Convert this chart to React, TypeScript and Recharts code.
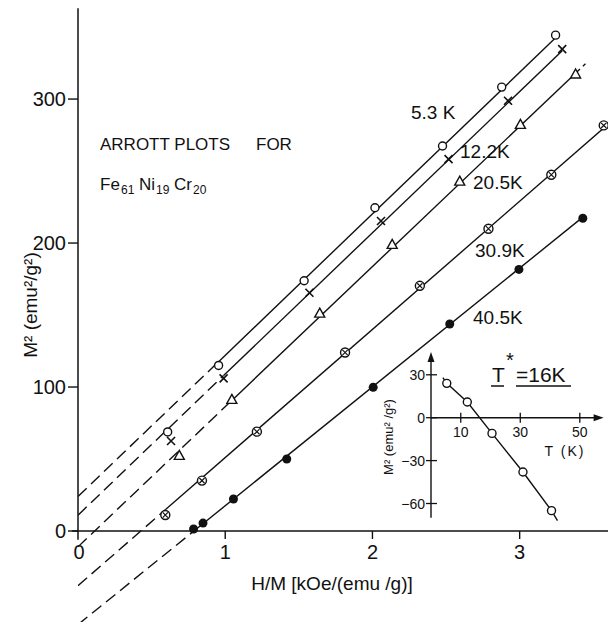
import React from 'react';
import { ComposedChart, Line, Scatter, XAxis, YAxis, ReferenceLine, ReferenceDot, Customized } from 'recharts';

const FONT = '"Liberation Sans", Arial, sans-serif';
const INK = '#111';

// Arrott isotherms, H/M in kOe/(emu/g) and M^2 in emu^2/g^2
const hm53 = [0.609, 0.955, 1.536, 2.017, 2.476, 2.878, 3.244];
const m53 = [68.8, 115, 173.8, 224.5, 267.4, 308.3, 344.4];

const hm122 = [0.632, 0.989, 1.572, 2.058, 2.517, 2.921, 3.289];
const m122 = [62.5, 106, 165.5, 215.3, 258.3, 298.8, 334.7];

const hm205 = [0.688, 1.045, 1.642, 2.134, 2.593, 3.005, 3.38];
const m205 = [52.5, 91.4, 151.3, 199.1, 243, 282.4, 317.4];

const hm309 = [0.593, 0.842, 1.215, 1.814, 2.322, 2.788, 3.215, 3.571];
const m309 = [11.1, 35, 69, 124, 170.3, 209.9, 247.4, 281.7];

const hm405 = [0.785, 0.849, 1.056, 1.418, 2.005, 2.525, 2.995, 3.429];
const m405 = [1.4, 5.5, 22.2, 50, 99.8, 143.75, 181.7, 217.2];

// extrapolated M^2 at H/M = 0 for each temperature (same values as the inset)
const temps = [5.3, 12.2, 20.5, 30.9, 40.5];
const intercepts = [24, 11, -11, -38, -65];
const tempLabels = ['5.3 K', '12.2K', '20.5K', '30.9K', '40.5K'];

// straight drawn lines: dashed from the intercept to (solidX0, solidY0), solid up to (solidX1, solidY1)
const solidX0 = [0.955, 0.989, 1.045, 0.593, 0.785];
const solidY0 = [117.6, 108, 90.7, 14.8, -0.2];
const solidX1 = [3.244, 3.289, 3.38, 3.6, 3.429];
const solidY1 = [342.5, 333.5, 318, 282.4, 218];
// short dashed continuation above the last 20.5 K triangle
const ext205X = [3.38, 3.447];
const ext205Y = [318, 324.5];

// inset line runs a little past the first and last point
const insetLineT = [4.0, 42.5];
const insetLineM = [28, -72];

const yTicks = [0, 100, 200, 300];
const xTicks = [0, 1, 2, 3];
const insetXTicks = [10, 30, 50];
const insetYTicks = [30, 0, -30, -60];

const pts = (xs: number[], ys: number[]) => xs.map((x, i) => ({ x, y: ys[i] }));

const series = [
  { xs: hm53, ys: m53, kind: 'circle' },
  { xs: hm122, ys: m122, kind: 'cross' },
  { xs: hm205, ys: m205, kind: 'triangle' },
  { xs: hm309, ys: m309, kind: 'otimes' },
  { xs: hm405, ys: m405, kind: 'filled' },
];

const Marker = (props: any) => {
  const { cx, cy, kind } = props;
  if (cx == null || cy == null) return null;
  switch (kind) {
    case 'circle':
      return <circle cx={cx} cy={cy} r={4} fill="#fff" stroke={INK} strokeWidth={1.4} />;
    case 'cross':
      return (
        <path
          d={`M${cx - 4},${cy - 4}L${cx + 4},${cy + 4}M${cx + 4},${cy - 4}L${cx - 4},${cy + 4}`}
          stroke={INK}
          strokeWidth={1.6}
        />
      );
    case 'triangle':
      return (
        <path d={`M${cx},${cy - 5}L${cx + 5},${cy + 4}L${cx - 5},${cy + 4}Z`} fill="#fff" stroke={INK} strokeWidth={1.4} />
      );
    case 'otimes':
      return (
        <g>
          <circle cx={cx} cy={cy} r={4.5} fill="#fff" stroke={INK} strokeWidth={1.4} />
          <path d={`M${cx - 2.6},${cy - 2.6}L${cx + 2.6},${cy + 2.6}M${cx + 2.6},${cy - 2.6}L${cx - 2.6},${cy + 2.6}`} stroke={INK} strokeWidth={1.2} />
        </g>
      );
    default:
      return <circle cx={cx} cy={cy} r={4.5} fill={INK} />;
  }
};

// all free text is placed in page pixels on the main (full size) chart
const MainText = () => (
  <g fontFamily={FONT} fill={INK}>
    <text x={100} y={150} fontSize={17}>ARROTT PLOTS</text>
    <text x={256} y={150} fontSize={17}>FOR</text>
    <text x={100} y={190} fontSize={17}>Fe</text>
    <text x={121} y={194} fontSize={12}>61</text>
    <text x={139} y={190} fontSize={17}>Ni</text>
    <text x={156} y={194} fontSize={12}>19</text>
    <text x={174} y={190} fontSize={17}>Cr</text>
    <text x={193} y={194} fontSize={12}>20</text>
    <text x={411} y={119} fontSize={19}>{tempLabels[0]}</text>
    <text x={460} y={158} fontSize={19}>{tempLabels[1]}</text>
    <text x={473} y={189} fontSize={19}>{tempLabels[2]}</text>
    <text x={475} y={257} fontSize={19}>{tempLabels[3]}</text>
    <text x={473} y={324} fontSize={19}>{tempLabels[4]}</text>
    <text x={332} y={590} fontSize={19} textAnchor="middle">H/M [kOe/(emu /g)]</text>
    <text x={0} y={0} fontSize={19} textAnchor="middle" transform="translate(37,305) rotate(-90)">
      M² (emu²/g²)
    </text>
    {/* inset annotations */}
    <text x={565} y={456} fontSize={14} textAnchor="middle" letterSpacing={2}>T (K)</text>
    <text x={0} y={0} fontSize={13} textAnchor="middle" transform="translate(393,437) rotate(-90)">
      M² (emu² /g²)
    </text>
    <text x={492} y={382} fontSize={21}>T</text>
    <text x={506} y={367} fontSize={20}>*</text>
    <text x={516} y={382} fontSize={21}>=16K</text>
    <line x1={491} y1={386} x2={504} y2={386} stroke={INK} strokeWidth={1.5} />
    <line x1={516} y1={386} x2={571} y2={386} stroke={INK} strokeWidth={1.5} />
  </g>
);

export default function App() {
  return (
    <div style={{ position: 'absolute', left: 0, top: 0, width: 608, height: 622, background: '#fff' }}>
      <ComposedChart width={608} height={622} margin={{ top: 0, right: 0, bottom: 0, left: 0 }}>
        <XAxis type="number" dataKey="x" domain={[0, 3.6]} hide allowDataOverflow />
        <YAxis
          type="number"
          dataKey="y"
          domain={[-63.2, 368.8]}
          ticks={yTicks}
          interval={0}
          width={78}
          axisLine={false}
          tickSize={10}
          tickLine={{ stroke: INK, strokeWidth: 1.4 }}
          tick={{ fill: INK, fontSize: 20, fontFamily: FONT }}
          allowDataOverflow
        />
        <ReferenceLine segment={[{ x: -0.04, y: 0 }, { x: 3.6, y: 0 }]} stroke={INK} strokeWidth={1.5} ifOverflow="visible" />
        <ReferenceLine segment={[{ x: 0, y: -6 }, { x: 0, y: 363 }]} stroke={INK} strokeWidth={1.5} ifOverflow="visible" />
        {xTicks.map((t) => (
          <ReferenceDot
            key={'xt' + t}
            x={t}
            y={0}
            r={0}
            ifOverflow="visible"
            shape={(p: any) => (
              <g>
                {t !== 0 && <line x1={p.cx} y1={p.cy} x2={p.cx} y2={p.cy + 8} stroke={INK} strokeWidth={1.4} />}
                <text x={p.cx + (t === 0 ? 1 : 0)} y={p.cy + 28} textAnchor="middle" fontSize={20} fontFamily={FONT} fill={INK}>
                  {t}
                </text>
              </g>
            )}
          />
        ))}
        {intercepts.map((b, i) => (
          <Line
            key={'d' + i}
            data={[{ x: 0, y: b }, { x: solidX0[i], y: solidY0[i] }]}
            dataKey="y"
            stroke={INK}
            strokeWidth={1.4}
            strokeDasharray="12 6"
            dot={false}
            isAnimationActive={false}
          />
        ))}
        {intercepts.map((_, i) => (
          <Line
            key={'s' + i}
            data={[{ x: solidX0[i], y: solidY0[i] }, { x: solidX1[i], y: solidY1[i] }]}
            dataKey="y"
            stroke={INK}
            strokeWidth={1.4}
            dot={false}
            isAnimationActive={false}
          />
        ))}
        <Line
          data={pts(ext205X, ext205Y)}
          dataKey="y"
          stroke={INK}
          strokeWidth={1.4}
          strokeDasharray="6 4"
          dot={false}
          isAnimationActive={false}
        />
        {series.map((s, i) => (
          <Scatter
            key={'p' + i}
            data={pts(s.xs, s.ys)}
            isAnimationActive={false}
            shape={(p: any) => <Marker cx={p.cx} cy={p.cy} kind={s.kind} />}
          />
        ))}
        <Customized component={MainText} />
      </ComposedChart>

      <div style={{ position: 'absolute', left: 372, top: 336 }}>
        <ComposedChart width={236} height={200} margin={{ top: 15.9, right: 4.4, bottom: 13.9, left: 59 }}>
          <XAxis type="number" dataKey="x" domain={[0, 58]} hide allowDataOverflow />
          <YAxis type="number" dataKey="y" domain={[-73, 46]} hide allowDataOverflow />
          <ReferenceLine segment={[{ x: 0, y: 0 }, { x: 56, y: 0 }]} stroke={INK} strokeWidth={1.4} ifOverflow="visible" />
          <ReferenceLine segment={[{ x: 0, y: -70 }, { x: 0, y: 43 }]} stroke={INK} strokeWidth={1.4} ifOverflow="visible" />
          <ReferenceDot
            x={58}
            y={0}
            r={0}
            ifOverflow="visible"
            shape={(p: any) => <path d={`M${p.cx},${p.cy}L${p.cx - 10},${p.cy - 3.5}L${p.cx - 10},${p.cy + 3.5}Z`} fill={INK} />}
          />
          <ReferenceDot
            x={0}
            y={46}
            r={0}
            ifOverflow="visible"
            shape={(p: any) => <path d={`M${p.cx},${p.cy}L${p.cx - 3.5},${p.cy + 10}L${p.cx + 3.5},${p.cy + 10}Z`} fill={INK} />}
          />
          {insetXTicks.map((t) => (
            <ReferenceDot
              key={'ixt' + t}
              x={t}
              y={0}
              r={0}
              ifOverflow="visible"
              shape={(p: any) => (
                <g>
                  <line x1={p.cx} y1={p.cy - 5} x2={p.cx} y2={p.cy + 5} stroke={INK} strokeWidth={1.3} />
                  <text x={p.cx} y={p.cy + 19} textAnchor="middle" fontSize={14} fontFamily={FONT} fill={INK}>
                    {t}
                  </text>
                </g>
              )}
            />
          ))}
          {insetYTicks.map((t) => (
            <ReferenceDot
              key={'iyt' + t}
              x={0}
              y={t}
              r={0}
              ifOverflow="visible"
              shape={(p: any) => (
                <g>
                  <line x1={p.cx - 5} y1={p.cy} x2={p.cx + 6} y2={p.cy} stroke={INK} strokeWidth={1.3} />
                  <text x={p.cx - 6} y={p.cy + 5} textAnchor="end" fontSize={14} fontFamily={FONT} fill={INK}>
                    {t < 0 ? '−' + Math.abs(t) : t}
                  </text>
                </g>
              )}
            />
          ))}
          <Line
            data={[
              { x: insetLineT[0], y: insetLineM[0] },
              ...pts(temps, intercepts),
              { x: insetLineT[1], y: insetLineM[1] },
            ]}
            dataKey="y"
            stroke={INK}
            strokeWidth={1.4}
            dot={false}
            isAnimationActive={false}
          />
          <Scatter
            data={pts(temps, intercepts)}
            isAnimationActive={false}
            shape={(p: any) => <circle cx={p.cx} cy={p.cy} r={4} fill="#fff" stroke={INK} strokeWidth={1.4} />}
          />
        </ComposedChart>
      </div>
    </div>
  );
}
